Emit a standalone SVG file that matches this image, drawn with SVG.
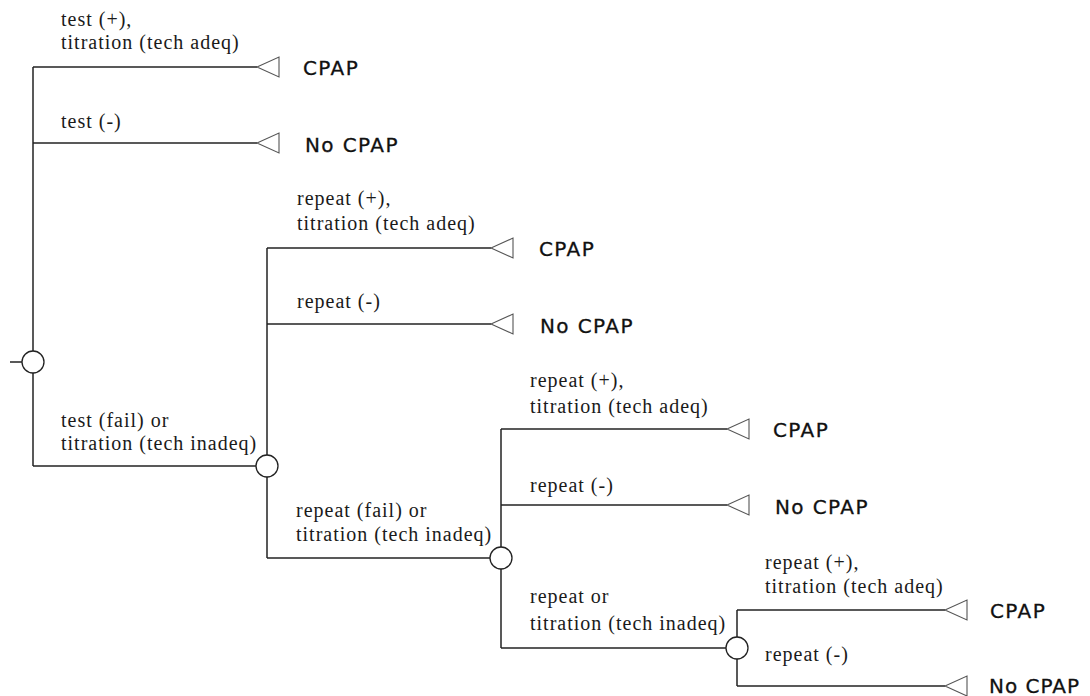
<svg xmlns="http://www.w3.org/2000/svg" width="1090" height="696" viewBox="0 0 1090 696">
<defs>
<style>
.ln{stroke:#222;stroke-width:1.5;fill:none}
.chance{fill:#fff;stroke:#222;stroke-width:1.3}
.term{fill:#fff;stroke:#555;stroke-width:1.1}
.lbl{font-family:"Liberation Serif","Times New Roman",serif;font-size:20px;letter-spacing:1px;fill:#1a1a1a}
.out{font-family:"DejaVu Sans",Verdana,sans-serif;font-size:20px;letter-spacing:1.4px;fill:#111;stroke:#111;stroke-width:0.3}
</style>
<polygon id="tri" points="0,0 22,-10 22,10"/>
</defs>
<rect width="1090" height="696" fill="#fff"/>
<g id="connectors">
<line class="ln" x1="10" y1="362" x2="22" y2="362"/>
<line class="ln" x1="33" y1="67" x2="33" y2="466"/>
<line class="ln" x1="33" y1="67" x2="257" y2="67"/>
<line class="ln" x1="33" y1="143" x2="257" y2="143"/>
<line class="ln" x1="33" y1="466" x2="256" y2="466"/>
<line class="ln" x1="267" y1="248" x2="267" y2="558"/>
<line class="ln" x1="267" y1="248" x2="491" y2="248"/>
<line class="ln" x1="267" y1="324" x2="491" y2="324"/>
<line class="ln" x1="267" y1="558" x2="490" y2="558"/>
<line class="ln" x1="501" y1="429" x2="501" y2="648"/>
<line class="ln" x1="501" y1="429" x2="727" y2="429"/>
<line class="ln" x1="501" y1="505" x2="727" y2="505"/>
<line class="ln" x1="501" y1="648" x2="726" y2="648"/>
<line class="ln" x1="737" y1="610" x2="737" y2="686"/>
<line class="ln" x1="737" y1="610" x2="945" y2="610"/>
<line class="ln" x1="737" y1="686" x2="945" y2="686"/>
</g>
<g id="labels">
<text class="lbl" x="61" y="26">test (+),</text>
<text class="lbl" x="61" y="49">titration (tech adeq)</text>
<text class="lbl" x="61" y="128">test (-)</text>
<text class="lbl" x="61" y="427">test (fail) or</text>
<text class="lbl" x="61" y="450">titration (tech inadeq)</text>
<text class="lbl" x="297" y="205">repeat (+),</text>
<text class="lbl" x="297" y="230">titration (tech adeq)</text>
<text class="lbl" x="297" y="308">repeat (-)</text>
<text class="lbl" x="296" y="517">repeat (fail) or</text>
<text class="lbl" x="296" y="541">titration (tech inadeq)</text>
<text class="lbl" x="530" y="387">repeat (+),</text>
<text class="lbl" x="530" y="413">titration (tech adeq)</text>
<text class="lbl" x="530" y="492">repeat (-)</text>
<text class="lbl" x="530" y="603">repeat or</text>
<text class="lbl" x="530" y="630">titration (tech inadeq)</text>
<text class="lbl" x="765" y="569">repeat (+),</text>
<text class="lbl" x="765" y="593">titration (tech adeq)</text>
<text class="lbl" x="765" y="661">repeat (-)</text>
</g>
<g id="n-root"><circle class="chance" cx="33" cy="362" r="11"/></g>
<g id="n-c2"><circle class="chance" cx="267" cy="466" r="11"/></g>
<g id="n-c3"><circle class="chance" cx="501" cy="558" r="11"/></g>
<g id="n-c4"><circle class="chance" cx="737" cy="648" r="11"/></g>
<g id="t1"><use href="#tri" class="term" x="257" y="67"/><text class="out" x="303" y="75">CPAP</text></g>
<g id="t2"><use href="#tri" class="term" x="257" y="143"/><text class="out" x="305" y="152">No CPAP</text></g>
<g id="t3"><use href="#tri" class="term" x="491" y="248"/><text class="out" x="539" y="256">CPAP</text></g>
<g id="t4"><use href="#tri" class="term" x="491" y="324"/><text class="out" x="540" y="333">No CPAP</text></g>
<g id="t5"><use href="#tri" class="term" x="727" y="429"/><text class="out" x="773" y="437">CPAP</text></g>
<g id="t6"><use href="#tri" class="term" x="727" y="505"/><text class="out" x="775" y="514">No CPAP</text></g>
<g id="t7"><use href="#tri" class="term" x="945" y="610"/><text class="out" x="990" y="618">CPAP</text></g>
<g id="t8"><use href="#tri" class="term" x="945" y="686"/><text class="out" x="989" y="693" style="letter-spacing:1px">No CPAP</text></g>
</svg>
